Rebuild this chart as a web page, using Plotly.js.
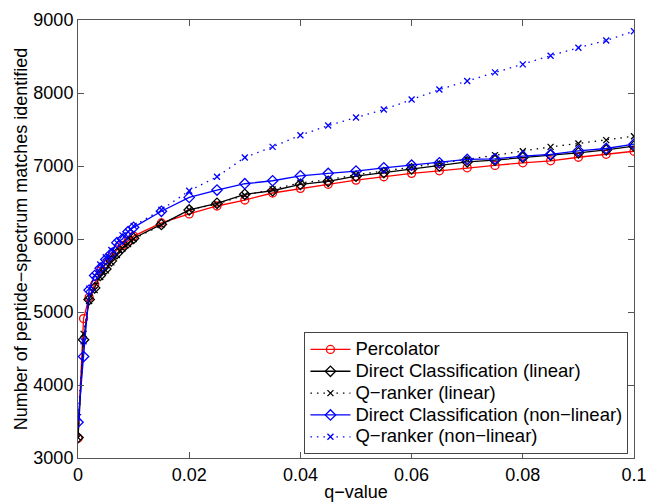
<!DOCTYPE html>
<html><head><meta charset="utf-8">
<script src="https://cdn.plot.ly/plotly-3.0.1.min.js"></script>
<style>html,body{margin:0;padding:0;background:#fff}#chart{width:648px;height:502px}</style>
</head><body><div id="chart"></div>
<script>
const qValues = [0,0.001,0.002,0.003,0.004,0.005,0.006,0.007,0.008,0.009,0.01,
  0.015,0.02,0.025,0.03,0.035,0.04,0.045,0.05,0.055,0.06,0.065,0.07,0.075,0.08,0.085,0.09,0.095,0.1];
const percolator = [3270,4910,5200,5380,5560,5660,5750,5850,5910,5970,6040,
  6220,6343,6452,6534,6630,6694,6749,6807,6853,6899,6934,6975,7008,7044,7071,7120,7160,7202];
const dcLinear = [3280,4620,5170,5330,5500,5590,5700,5800,5880,5950,6010,
  6200,6398,6489,6612,6661,6749,6790,6860,6910,6960,7000,7057,7080,7117,7150,7180,7220,7272];
const qrLinear = [3280,4700,5150,5300,5480,5570,5680,5780,5870,5930,6000,
  6190,6400,6480,6600,6680,6770,6810,6880,6930,6990,7040,7090,7149,7203,7262,7309,7354,7408];
const dcNonLinear = [3490,4390,5300,5500,5600,5720,5800,5950,6000,6100,6160,
  6380,6570,6671,6757,6798,6866,6899,6930,6975,7012,7044,7090,7098,7135,7158,7208,7240,7299];
const qrNonLinear = [3560,4600,5320,5500,5650,5750,5850,5950,6050,6100,6180,
  6400,6661,6852,7117,7262,7422,7554,7664,7773,7910,8047,8164,8283,8392,8511,8620,8720,8847];
const seriesNames = ["Percolator","Direct Classification (linear)","Q\u2212ranker (linear)",
  "Direct Classification (non\u2212linear)","Q\u2212ranker (non\u2212linear)"];
const xTicks = [0,0.02,0.04,0.06,0.08,0.1];
const xTickText = ["0","0.02","0.04","0.06","0.08","0.1"];
const yTicks = [3000,4000,5000,6000,7000,8000,9000];

const FONT = "Liberation Sans, Arial, sans-serif";
function tr(y, name, color, dash, symbol, size) {
  return {x: qValues, y: y, name: '<span style="font-size:18.5px">' + name + '</span>',
    type: "scatter", mode: "lines+markers",
    line: {color: color, width: 1.3, dash: dash},
    marker: {symbol: symbol, size: size, color: color, line: {color: color, width: 1.3}}};
}
const DOTS = "1.5px,5px";
const data = [
  tr(percolator, seriesNames[0], "#ff0000", "solid", "circle-open", 8),
  tr(dcLinear, seriesNames[1], "#000000", "solid", "diamond-open", 8),
  tr(qrLinear, seriesNames[2], "#000000", DOTS, "x-thin-open", 6),
  tr(dcNonLinear, seriesNames[3], "#0000ff", "solid", "diamond-open", 8),
  tr(qrNonLinear, seriesNames[4], "#0000ff", DOTS, "x-thin-open", 6)
];
const axisCommon = {showgrid: false, zeroline: false, showline: true, mirror: "ticks",
  linecolor: "#555", linewidth: 1, ticks: "inside", ticklen: 6, tickcolor: "#555",
  tickfont: {family: FONT, size: 18, color: "#000"}};
const layout = {
  width: 648, height: 502,
  margin: {l: 78, r: 14, t: 20, b: 44},
  paper_bgcolor: "#fff", plot_bgcolor: "#fff",
  showlegend: true,
  xaxis: Object.assign({}, axisCommon, {range: [0, 0.1], tickvals: xTicks, ticktext: xTickText,
    title: {text: "q\u2212value", font: {family: FONT, size: 18, color: "#000"}, standoff: 2}}),
  yaxis: Object.assign({}, axisCommon, {range: [3000, 9000], tickvals: yTicks,
    title: {text: "Number of peptide\u2212spectrum matches identified", font: {family: FONT, size: 18, color: "#000"}, standoff: 1}}),
  legend: {x: 0.99, y: 0.008, xanchor: "right", yanchor: "bottom",
    bgcolor: "#fff", bordercolor: "#444", borderwidth: 1,
    font: {family: FONT, size: 14.5, color: "#000"}, tracegroupgap: 0, itemwidth: 40}
};
Plotly.newPlot("chart", data, layout, {staticPlot: true, displayModeBar: false});
</script></body></html>
